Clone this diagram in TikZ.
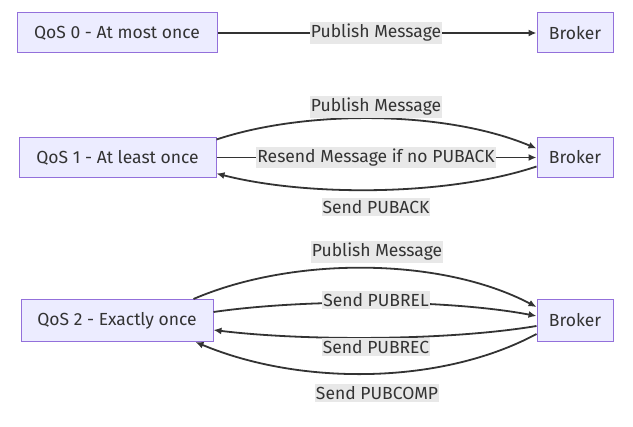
\documentclass[tikz,border=0pt]{standalone}
\usepackage{fontspec}
\setmainfont{Fira Sans}
\usetikzlibrary{arrows.meta}
\definecolor{boxfill}{HTML}{ECECFF}
\definecolor{boxline}{HTML}{9370DB}
\definecolor{ink}{HTML}{333333}
\definecolor{lblfill}{HTML}{E8E8E8}
\begin{document}
\begin{tikzpicture}[x=1pt,y=-1pt,
  box/.style={draw=boxline,fill=boxfill,line width=1pt,text=ink,minimum height=40pt,inner xsep=10pt,font=\fontsize{17.5}{20}\selectfont},
  lbl/.style={fill=lblfill,text=ink,inner xsep=1pt,inner ysep=2pt,font=\fontsize{17.5}{20}\selectfont},
  edge/.style={draw=ink,line width=1.8pt,-{Latex[length=8pt,width=7pt]}}]
				\useasboundingbox (0,0) rectangle (633,427);
				\node[box,minimum width=200pt] (q0) at (117,33) {QoS 0 - At most once};
				\node[box,minimum width=76pt] (b0) at (575,33) {Broker};
				\node[box,minimum width=197pt] (q1) at (117.5,157.5) {QoS 1 - At least once};
				\node[box,minimum width=76pt] (b1) at (575,157.5) {Broker};
				\node[box,minimum width=192pt,minimum height=42pt] (q2) at (117,320.5) {QoS 2 - Exactly once};
				\node[box,minimum width=76pt,minimum height=42pt] (b2) at (575,320.5) {Broker};
				\draw[edge] (q0) -- (b0);
				\draw[edge] ([yshift=18pt]q1.east) .. controls +(90,-30) and +(-90,-38) .. ([yshift=9pt]b1.west);
				\draw[edge] (q1) -- (b1);
				\draw[edge] ([yshift=-9pt]b1.west) .. controls +(-90,30) and +(90,23) .. ([yshift=-16pt]q1.east);
				\draw[edge] ([xshift=-20pt]q2.north east) .. controls +(100,-43) and +(-95,-50) .. ([yshift=13.5pt]b2.west);
				\draw[edge] ([yshift=8.5pt]q2.east) .. controls +(90,-13) and +(-90,-17) .. ([yshift=4.5pt]b2.west);
				\draw[edge] ([yshift=-5.5pt]b2.west) .. controls +(-90,15) and +(90,11) .. ([yshift=-9.5pt]q2.east);
				\draw[edge] ([yshift=-13.5pt]b2.west) .. controls +(-95,51) and +(105,44) .. ([xshift=-18pt]q2.south east);
				\node[lbl] (l0) at (376,33) {Publish Message};
				\node[lbl] (l1a) at (376,107) {Publish Message};
				\node[lbl] (l1b) at (376,157.5) {Resend Message if no PUBACK};
				\node[lbl] (l1c) at (376,207) {Send PUBACK};
				\node[lbl] (l2a) at (377,252) {Publish Message};
				\node[lbl] (l2b) at (376,300) {Send PUBREL};
				\node[lbl] (l2c) at (376,347) {Send PUBREC};
				\node[lbl] (l2d) at (377,393) {Send PUBCOMP};
			\end{tikzpicture}
\end{document}
